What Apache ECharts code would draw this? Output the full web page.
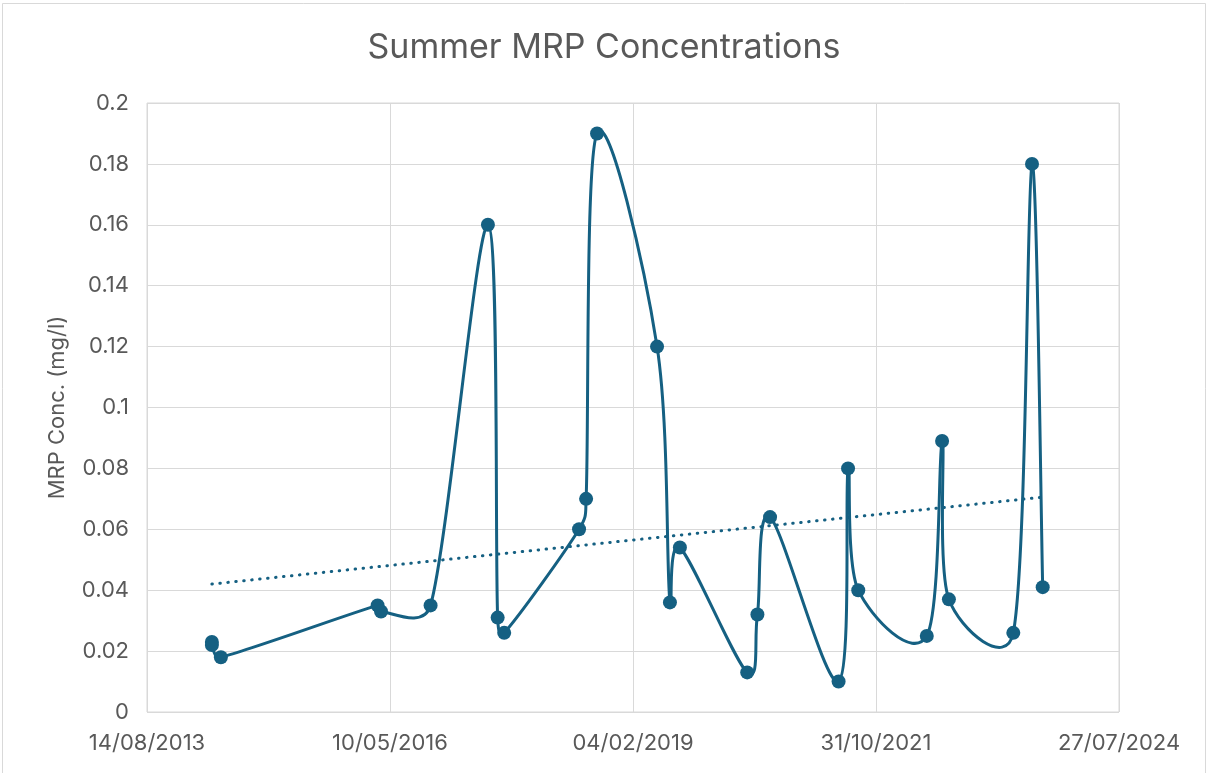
<!DOCTYPE html>
<html>
<head>
<meta charset="utf-8">
<script src="https://cdn.jsdelivr.net/npm/echarts@6/dist/echarts.min.js"></script>
<style>
html,body{margin:0;padding:0;background:#fff;}
#chart{width:1208px;height:773px;}
</style>
</head>
<body>
<div id="chart"></div>
<script>
// ---- data ----
var sampleDates = ['2014-05-08','2014-05-08','2014-06-14','2016-03-20','2016-04-03','2016-10-24',
  '2017-06-17','2017-07-27','2017-08-23','2018-06-27','2018-07-26','2018-09-09',
  '2019-05-14','2019-07-06','2019-08-16','2020-05-19','2020-06-30','2020-08-21',
  '2021-05-30','2021-07-08','2021-08-19','2022-05-28','2022-07-30','2022-08-27',
  '2023-05-19','2023-08-04','2023-09-17'];
var mrpValues = [0.023,0.022,0.018,0.035,0.033,0.035,
  0.16,0.031,0.026,0.06,0.07,0.19,
  0.12,0.036,0.054,0.013,0.032,0.064,
  0.01,0.08,0.04,0.025,0.089,0.037,
  0.026,0.18,0.041];
var xTickLabels = ['14/08/2013','10/05/2016','04/02/2019','31/10/2021','27/07/2024'];
var yTickLabels = ['0','0.02','0.04','0.06','0.08','0.1','0.12','0.14','0.16','0.18','0.2'];
var baseDate = '2013-08-14';

// ---- helpers ----
function dayNum(s){var p=s.split('-');return Date.UTC(+p[0],+p[1]-1,+p[2])/86400000;}
var base = dayNum(baseDate);
var pts = sampleDates.map(function(d,i){return [dayNum(d)-base, mrpValues[i]];});

// linear trend (least squares)
var n=pts.length,sx=0,sy=0,sxx=0,sxy=0;
pts.forEach(function(p){sx+=p[0];sy+=p[1];sxx+=p[0]*p[0];sxy+=p[0]*p[1];});
var slope=(n*sxy-sx*sy)/(n*sxx-sx*sx), icpt=(sy-slope*sx)/n;
var x0=pts[0][0], x1=pts[n-1][0];
var trend=[[x0,icpt+slope*x0],[x1,icpt+slope*x1]];

var font='Inter, "Open Sans", sans-serif';
var col='#156082';

// Excel-style smoothed segment between point i and i+1 (mapped through the axes)
function renderSeg(params, api){
  var i=params.dataIndex;
  if(i>=pts.length-1) return null;
  function P(k){k=Math.max(0,Math.min(pts.length-1,k));return api.coord(pts[k]);}
  var p0=P(i-1),p1=P(i),p2=P(i+1),p3=P(i+2);
  function d(a,b){return Math.sqrt((a[0]-b[0])*(a[0]-b[0])+(a[1]-b[1])*(a[1]-b[1]));}
  var d02=d(p0,p2),d12=d(p1,p2),d13=d(p1,p3);
  var f=1/6,g=1/6;
  if(d02>0 && d02/6>=d12/2) f=d12/(2*d02);
  if(d13>0 && d13/6>=d12/2) g=d12/(2*d13);
  return {type:'bezierCurve',
    shape:{x1:p1[0],y1:p1[1],x2:p2[0],y2:p2[1],
      cpx1:p1[0]+f*(p2[0]-p0[0]),cpy1:p1[1]+f*(p2[1]-p0[1]),
      cpx2:p2[0]-g*(p3[0]-p1[0]),cpy2:p2[1]-g*(p3[1]-p1[1])},
    style:{stroke:col,lineWidth:3,fill:'none',lineCap:'round'}};
}

var chart=echarts.init(document.getElementById('chart'),null,{renderer:'canvas'});
chart.setOption({
  animation:false,
  backgroundColor:'#fff',
  graphic:[{type:'rect',shape:{x:2.5,y:3.5,width:1203,height:800},style:{fill:'none',stroke:'#d9d9d9',lineWidth:1},silent:true}],
  title:{text:'Summer MRP Concentrations',left:'center',top:26,
    textStyle:{fontFamily:font,fontSize:34,fontWeight:'normal',color:'#595959'}},
  grid:{left:147,right:89,top:103,bottom:61,show:true,borderColor:'#d9d9d9',borderWidth:1,containLabel:false},
  xAxis:{type:'value',min:0,max:4000,interval:1000,
    axisLine:{show:false},axisTick:{show:false},
    splitLine:{show:true,lineStyle:{color:'#d9d9d9',width:1}},
    axisLabel:{color:'#595959',fontFamily:font,fontSize:22,margin:20,
      formatter:function(v){return xTickLabels[Math.round(v/1000)];}}},
  yAxis:{type:'value',min:0,max:0.2,interval:0.02,
    name:'MRP Conc. (mg/l)',nameLocation:'middle',nameGap:79,
    nameTextStyle:{color:'#595959',fontFamily:font,fontSize:22},
    axisLine:{show:false},axisTick:{show:false},
    splitLine:{show:true,lineStyle:{color:'#d9d9d9',width:1}},
    axisLabel:{color:'#595959',fontFamily:font,fontSize:22,margin:18,
      formatter:function(v){return yTickLabels[Math.round(v/0.02)];}}},
  series:[
    {type:'custom',data:pts,encode:{x:0,y:1},renderItem:renderSeg,z:3,silent:true},
    {type:'scatter',data:pts,symbol:'circle',symbolSize:14,itemStyle:{color:col,opacity:1},z:4},
    {type:'line',data:trend,symbol:'none',
      lineStyle:{color:col,width:3,type:[0.5,7.5],cap:'round'},z:2}
  ]
});
</script>
</body>
</html>
